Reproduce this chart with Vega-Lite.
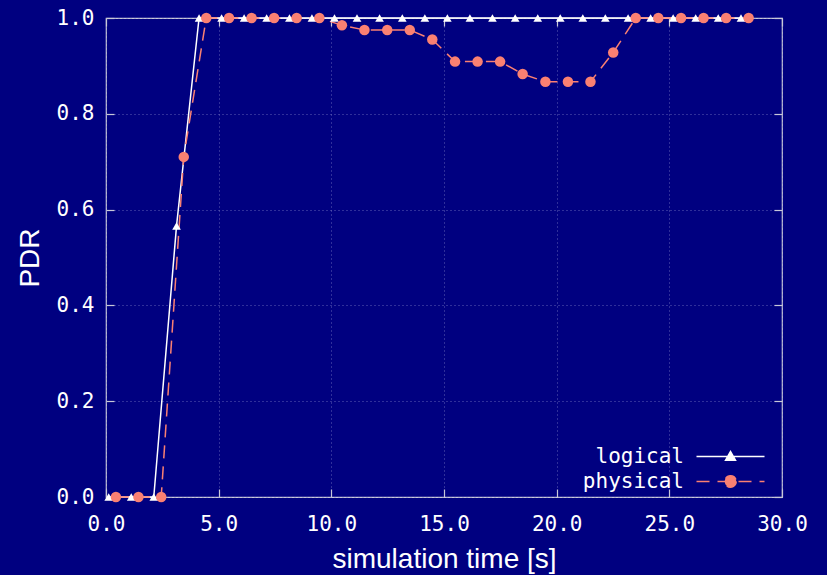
{
  "$schema": "https://vega.github.io/schema/vega-lite/v6.json",
  "width": 676,
  "height": 479,
  "autosize": {"type": "none"},
  "padding": {"left": 106, "top": 18, "right": 45, "bottom": 78},
  "background": "#000080",
  "config": {
    "view": {"stroke": "#c8c8d8", "strokeWidth": 1.2},
    "axis": {
      "domain": false,
      "labelFont": "DejaVu Sans Mono",
      "labelFontSize": 21,
      "labelColor": "#ffffff",
      "tickColor": "#c8c8d8",
      "tickSize": -8,
      "tickWidth": 1.2,
      "gridColor": "#8888cc",
      "gridOpacity": 0.7,
      "gridDash": [1, 3],
      "gridWidth": 1,
      "titleFont": "Liberation Sans",
      "titleFontSize": 28,
      "titleFontWeight": "normal",
      "titleColor": "#ffffff"
    },
    "legend": {
      "orient": "none",
      "padding": 0,
      "symbolSize": 100,
      "symbolOffset": 0,
      "symbolStrokeWidth": 1.5,
      "labelOffset": -57,
      "labelAlign": "right",
      "labelFont": "DejaVu Sans Mono",
      "labelFontSize": 21,
      "labelColor": "#ffffff"
    }
  },
  "data": {
    "values": [
      {"series": "logical", "t": 0.12, "pdr": 0},
      {"series": "logical", "t": 1.12, "pdr": 0},
      {"series": "logical", "t": 2.12, "pdr": 0},
      {"series": "logical", "t": 3.13, "pdr": 0.566},
      {"series": "logical", "t": 4.13, "pdr": 1},
      {"series": "logical", "t": 5.13, "pdr": 1},
      {"series": "logical", "t": 6.13, "pdr": 1},
      {"series": "logical", "t": 7.13, "pdr": 1},
      {"series": "logical", "t": 8.14, "pdr": 1},
      {"series": "logical", "t": 9.14, "pdr": 1},
      {"series": "logical", "t": 10.14, "pdr": 1},
      {"series": "logical", "t": 11.14, "pdr": 1},
      {"series": "logical", "t": 12.14, "pdr": 1},
      {"series": "logical", "t": 13.15, "pdr": 1},
      {"series": "logical", "t": 14.15, "pdr": 1},
      {"series": "logical", "t": 15.15, "pdr": 1},
      {"series": "logical", "t": 16.15, "pdr": 1},
      {"series": "logical", "t": 17.15, "pdr": 1},
      {"series": "logical", "t": 18.16, "pdr": 1},
      {"series": "logical", "t": 19.16, "pdr": 1},
      {"series": "logical", "t": 20.16, "pdr": 1},
      {"series": "logical", "t": 21.16, "pdr": 1},
      {"series": "logical", "t": 22.16, "pdr": 1},
      {"series": "logical", "t": 23.17, "pdr": 1},
      {"series": "logical", "t": 24.17, "pdr": 1},
      {"series": "logical", "t": 25.17, "pdr": 1},
      {"series": "logical", "t": 26.17, "pdr": 1},
      {"series": "logical", "t": 27.17, "pdr": 1},
      {"series": "logical", "t": 28.18, "pdr": 1},
      {"series": "physical", "t": 0.44, "pdr": 0},
      {"series": "physical", "t": 1.44, "pdr": 0},
      {"series": "physical", "t": 2.45, "pdr": 0},
      {"series": "physical", "t": 3.45, "pdr": 0.71},
      {"series": "physical", "t": 4.45, "pdr": 1},
      {"series": "physical", "t": 5.46, "pdr": 1},
      {"series": "physical", "t": 6.46, "pdr": 1},
      {"series": "physical", "t": 7.46, "pdr": 1},
      {"series": "physical", "t": 8.46, "pdr": 1},
      {"series": "physical", "t": 9.47, "pdr": 1},
      {"series": "physical", "t": 10.47, "pdr": 0.985},
      {"series": "physical", "t": 11.47, "pdr": 0.975},
      {"series": "physical", "t": 12.48, "pdr": 0.975},
      {"series": "physical", "t": 13.48, "pdr": 0.975},
      {"series": "physical", "t": 14.48, "pdr": 0.955},
      {"series": "physical", "t": 15.49, "pdr": 0.909},
      {"series": "physical", "t": 16.49, "pdr": 0.909},
      {"series": "physical", "t": 17.49, "pdr": 0.909},
      {"series": "physical", "t": 18.49, "pdr": 0.883},
      {"series": "physical", "t": 19.5, "pdr": 0.867},
      {"series": "physical", "t": 20.5, "pdr": 0.867},
      {"series": "physical", "t": 21.5, "pdr": 0.867},
      {"series": "physical", "t": 22.51, "pdr": 0.928},
      {"series": "physical", "t": 23.51, "pdr": 1},
      {"series": "physical", "t": 24.51, "pdr": 1},
      {"series": "physical", "t": 25.52, "pdr": 1},
      {"series": "physical", "t": 26.52, "pdr": 1},
      {"series": "physical", "t": 27.52, "pdr": 1},
      {"series": "physical", "t": 28.52, "pdr": 1}
    ]
  },
  "resolve": {
    "axis": {"x": "independent", "y": "independent"},
    "scale": {"fill": "independent"},
    "legend": {"fill": "independent"}
  },
  "layer": [
    {
      "transform": [{"filter": "datum.series === 'logical'"}],
      "mark": {"type": "line", "color": "#ffffff", "strokeWidth": 1.5, "clip": false},
      "encoding": {
        "x": {
          "field": "t", "type": "quantitative",
          "scale": {"domain": [0, 30], "nice": false, "zero": false},
          "axis": {"orient": "bottom", "values": [0, 5, 10, 15, 20, 25, 30], "format": ".1f", "labelPadding": 24, "title": "simulation time [s]", "titlePadding": 11, "grid": true, "labelFlush": false}
        },
        "y": {
          "field": "pdr", "type": "quantitative",
          "scale": {"domain": [0, 1], "nice": false},
          "axis": {"orient": "left", "values": [0, 0.2, 0.4, 0.6, 0.8, 1.0], "format": ".1f", "labelPadding": 20, "title": "PDR", "titlePadding": 12, "grid": true}
        }
      }
    },
    {
      "transform": [{"filter": "datum.series === 'physical'"}],
      "mark": {"type": "line", "color": "#fa8072", "strokeWidth": 1.5, "strokeDash": [13, 8], "clip": false},
      "encoding": {
        "x": {"field": "t", "type": "quantitative", "axis": null},
        "y": {"field": "pdr", "type": "quantitative", "axis": null}
      }
    },
    {
      "transform": [{"filter": "datum.series === 'logical'"}],
      "mark": {"type": "point", "filled": true, "opacity": 1, "clip": false},
      "encoding": {
        "x": {
          "field": "t", "type": "quantitative",
          "axis": {"orient": "top", "values": [0, 5, 10, 15, 20, 25, 30], "labels": false, "title": null, "grid": false}
        },
        "y": {
          "field": "pdr", "type": "quantitative",
          "axis": {"orient": "right", "values": [0, 0.2, 0.4, 0.6, 0.8, 1.0], "labels": false, "title": null, "grid": false}
        },
        "fill": {
          "datum": "logical", "type": "nominal",
          "scale": {"domain": ["logical"], "range": ["#ffffff"]},
          "legend": {
            "title": null,
            "legendX": 614,
            "legendY": 428,
            "symbolType": "M-6.8,0L6.8,0M-1.0,0.75L0,-1.0L1.0,0.75Z",
            "symbolStrokeColor": "#ffffff",
            "symbolStrokeWidth": 1.5
          }
        },
        "shape": {
          "datum": "logical", "type": "nominal",
          "scale": {"domain": ["logical", "physical"], "range": ["triangle-up", "circle"]},
          "legend": null
        },
        "size": {
          "datum": "logical", "type": "nominal",
          "scale": {"domain": ["logical", "physical"], "range": [75, 110]},
          "legend": null
        }
      }
    },
    {
      "transform": [{"filter": "datum.series === 'physical'"}],
      "mark": {"type": "point", "filled": true, "opacity": 1, "clip": false},
      "encoding": {
        "x": {"field": "t", "type": "quantitative", "axis": null},
        "y": {"field": "pdr", "type": "quantitative", "axis": null},
        "fill": {
          "datum": "physical", "type": "nominal",
          "scale": {"domain": ["physical"], "range": ["#fa8072"]},
          "legend": {
            "title": null,
            "legendX": 614,
            "legendY": 453,
            "symbolType": "M-6.8,0L6.8,0M1.15,0A1.15,1.15,0,1,1,-1.15,0A1.15,1.15,0,1,1,1.15,0Z",
            "symbolStrokeColor": "#fa8072",
            "symbolStrokeWidth": 1.5,
            "symbolDash": [13, 8]
          }
        },
        "shape": {
          "datum": "physical", "type": "nominal",
          "scale": {"domain": ["logical", "physical"], "range": ["triangle-up", "circle"]},
          "legend": null
        },
        "size": {
          "datum": "physical", "type": "nominal",
          "scale": {"domain": ["logical", "physical"], "range": [75, 110]},
          "legend": null
        }
      }
    }
  ]
}
